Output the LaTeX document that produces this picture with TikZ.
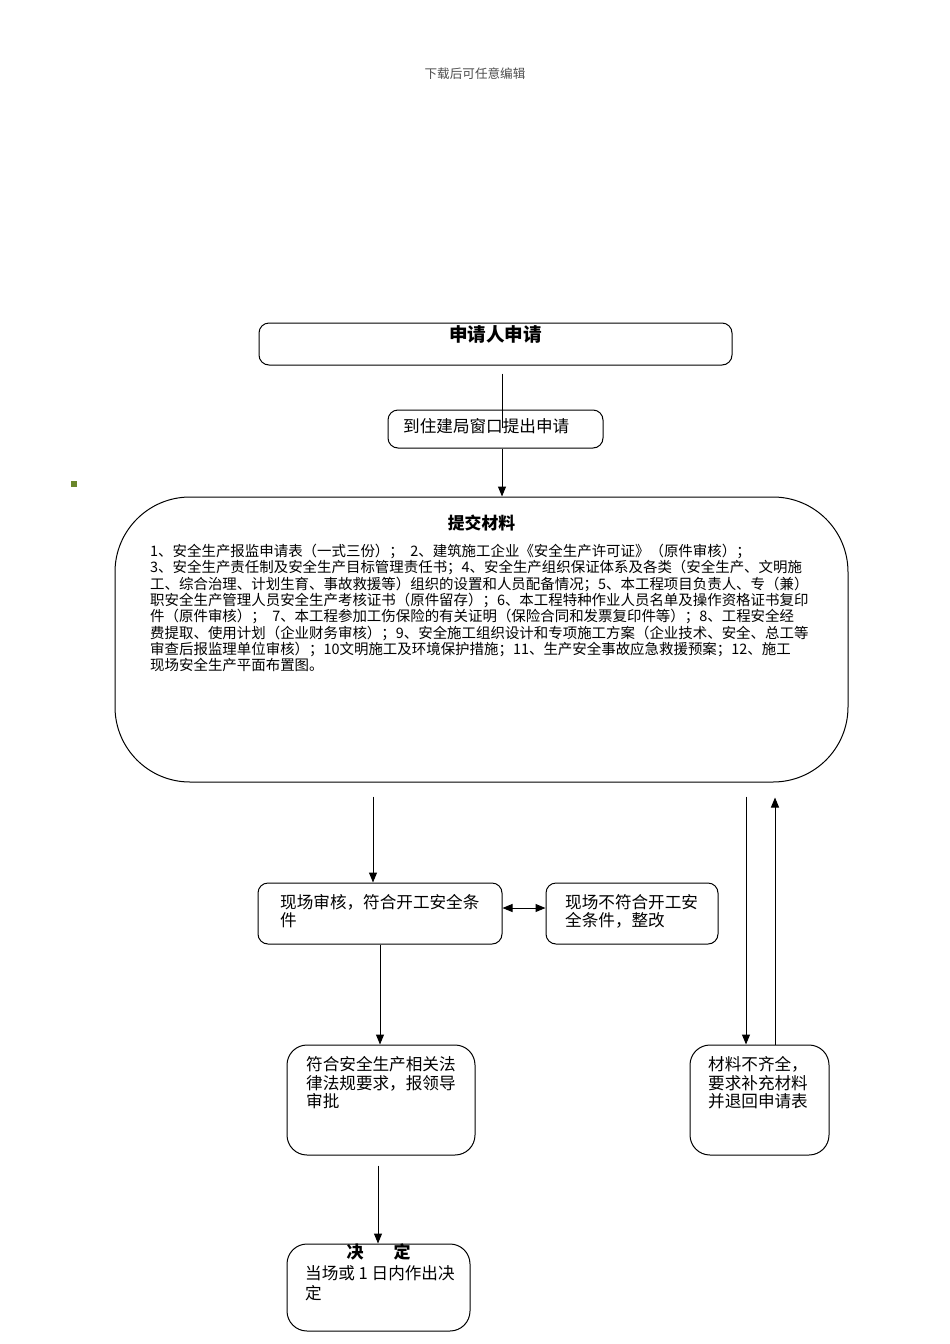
\documentclass[tikz,border=0pt]{standalone}
\usepackage{fontspec}
\setmainfont{Noto Sans CJK SC}
\usetikzlibrary{arrows.meta,calc}
\tikzset{
  box/.style={draw, line width=1pt, rounded corners=10pt, inner sep=0pt},
  bigbox/.style={draw, line width=1pt, rounded corners=75pt, inner sep=0pt},
  softbox/.style={draw, line width=1pt, rounded corners=20pt, inner sep=0pt},
  arr/.style={line width=1pt, -{Triangle[length=10pt,width=8pt]}},
  darr/.style={line width=1pt, {Triangle[length=10pt,width=8pt]}-{Triangle[length=10pt,width=8pt]}},
  plain/.style={line width=1pt},
  txt/.style={anchor=base west, inner sep=0pt, font=\fontsize{16.6}{18}\selectfont},
  bodytxt/.style={anchor=base west, inner sep=0pt, font=\fontsize{14.45}{16.3}\selectfont},
}
\begin{document}
\begin{tikzpicture}[x=1pt,y=-1pt]
\useasboundingbox (0,0) rectangle (950,1344);
% header
\node[anchor=base, inner sep=0pt, font=\fontsize{12.6}{14}\selectfont, text=black!70] (hdr) at (475,78.8) {下载后可任意编辑};
% stray mark
\fill[olive!60!green!80!black] (71,481) rectangle (77,487);
% boxes
\node[box, minimum width=473pt, minimum height=42pt] (b1) at (495.5,344) {};
\node[anchor=base, inner sep=0pt, font=\fontsize{18.6}{20}\selectfont\bfseries] (t1) at (495.5,341) {申请人申请};
\node[box, minimum width=215pt, minimum height=38pt] (b2) at (495.5,429) {};
\node[txt] (t2) at (403,432.3) {到住建局窗口提出申请};
\node[bigbox, minimum width=733pt, minimum height=285pt] (big) at (481.5,639.5) {};
\node[anchor=base, inner sep=0pt, font=\fontsize{16.8}{18}\selectfont\bfseries] (tbig) at (481.5,529.4) {提交材料};
\foreach \t [count=\i from 0] in {
  {1、安全生产报监申请表（一式三份）；\ \ 2、建筑施工企业《安全生产许可证》（原件审核）；},
  {3、安全生产责任制及安全生产目标管理责任书；4、安全生产组织保证体系及各类（安全生产、文明施},
  {工、综合治理、计划生育、事故救援等）组织的设置和人员配备情况；5、本工程项目负责人、专（兼）},
  {职安全生产管理人员安全生产考核证书（原件留存）；6、本工程特种作业人员名单及操作资格证书复印},
  {件（原件审核）；\ \ 7、本工程参加工伤保险的有关证明（保险合同和发票复印件等）；8、工程安全经},
  {费提取、使用计划（企业财务审核）；9、安全施工组织设计和专项施工方案（企业技术、安全、总工等},
  {审查后报监理单位审核）；10文明施工及环境保护措施；11、生产安全事故应急救援预案；12、施工},
  {现场安全生产平面布置图。}}
  \node[bodytxt] (m\i) at (150,{556.5+16.3*\i}) {\t};
\node[box, minimum width=244pt, minimum height=61pt] (b3) at (380,913.5) {};
\foreach \t [count=\i from 0] in {{现场审核，符合开工安全条},{件}}
  \node[txt] (t3\i) at (280,{908.3+18.3*\i}) {\t};
\node[box, minimum width=172pt, minimum height=61pt] (b4) at (632,913.5) {};
\foreach \t [count=\i from 0] in {{现场不符合开工安},{全条件，整改}}
  \node[txt] (t4\i) at (565,{908.3+18.3*\i}) {\t};
\node[softbox, minimum width=188pt, minimum height=110pt] (b5) at (381,1100) {};
\foreach \t [count=\i from 0] in {{符合安全生产相关法},{律法规要求，报领导},{审批}}
  \node[txt] (t5\i) at (306,{1070.6+18.5*\i}) {\t};
\node[softbox, minimum width=139pt, minimum height=110pt] (b6) at (759.5,1100) {};
\foreach \t [count=\i from 0] in {{材料不齐全，},{要求补充材料},{并退回申请表}}
  \node[txt] (t6\i) at (708,{1070.6+18.5*\i}) {\t};
\node[softbox, minimum width=183pt, minimum height=87pt] (b7) at (378.5,1287.5) {};
\node[anchor=base, inner sep=0pt, font=\fontsize{17}{18}\selectfont\bfseries] (t7a) at (355,1258.5) {决};
\node[anchor=base, inner sep=0pt, font=\fontsize{17}{18}\selectfont\bfseries] (t7b) at (402,1258.5) {定};
\foreach \t [count=\i from 0] in {{当场或 1 日内作出决},{定}}
  \node[txt] (t7\i) at (305,{1279.3+20*\i}) {\t};
% helper coordinates for connector ends
\coordinate (bigS) at ($(big.south)+(0,14)$);
\coordinate (bigS2) at ($(big.south)+(0,15)$);
\coordinate (b6L) at ($(b6.north)+(-13.5,0)$);
\coordinate (b6R) at ($(b6.north)+(15.5,0)$);
\coordinate (b1s) at ($(b1.south)+(6.5,8)$);
\coordinate (b2s) at ($(b2.south)+(6.5,0)$);
\coordinate (b2m) at ($(b2.south)+(6.5,-21)$);
\coordinate (bigL) at ($(big.south)+(-108.5,14)$);
\coordinate (b3e) at ($(b3.east)+(0,-5.5)$);
\coordinate (b5s) at ($(b5.south)+(-3,10)$);
% connectors
\draw[plain] (b1s) -- (b2m);
\draw[arr] (b2s) -- (b2s |- big.north);
\draw[arr] (bigL) -- (bigL |- b3.north);
\draw[darr] (b3e) -- (b3e -| b4.west);
\draw[arr] (b3.south) -- (b3.south |- b5.north);
\draw[arr] (b6L |- bigS) -- (b6L);
\draw[arr] (b6R) -- (b6R |- bigS2);
\draw[arr] (b5s) -- (b5s |- b7.north);
\end{tikzpicture}
\end{document}
